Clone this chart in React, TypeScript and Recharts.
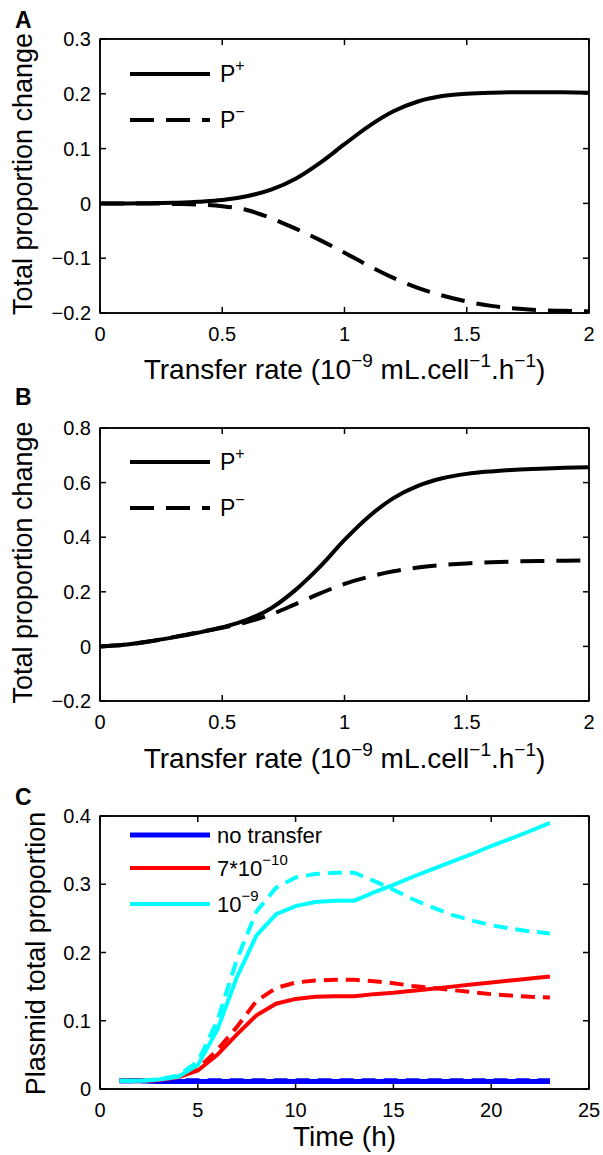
import React from 'react';
import { LineChart, Line, XAxis, YAxis } from 'recharts';

const FONT = '"Liberation Sans", Arial, Helvetica, sans-serif';

// panels A and B: transfer rate (10^-9 mL.cell^-1.h^-1)
const rate = [0, 0.1, 0.2, 0.3, 0.4, 0.5, 0.6, 0.7, 0.8, 0.9, 1, 1.1, 1.2, 1.3, 1.4, 1.5, 1.6, 1.7, 1.8, 1.9, 2];
const plusA = [0, 0, 0.0005, 0.001, 0.003, 0.006, 0.013, 0.025, 0.045, 0.074, 0.108, 0.141, 0.168, 0.186, 0.196, 0.2, 0.202, 0.203, 0.203, 0.203, 0.202];
const minusA = [0, 0, 0, -0.001, -0.002, -0.005, -0.012, -0.027, -0.046, -0.067, -0.09, -0.114, -0.136, -0.154, -0.168, -0.179, -0.187, -0.192, -0.195, -0.196, -0.197];
const plusB = [0, 0.006, 0.018, 0.033, 0.05, 0.07, 0.097, 0.14, 0.207, 0.292, 0.39, 0.476, 0.543, 0.588, 0.616, 0.632, 0.641, 0.647, 0.651, 0.654, 0.656];
const minusB = [0, 0.006, 0.018, 0.034, 0.051, 0.068, 0.089, 0.117, 0.155, 0.194, 0.229, 0.255, 0.275, 0.289, 0.298, 0.304, 0.308, 0.311, 0.313, 0.314, 0.315];

// panel C: time (h)
const hours = [1, 2, 3, 4, 5, 6, 7, 8, 9, 10, 11, 12, 13, 14, 15, 16, 17, 18, 19, 20, 21, 22, 23];
const noTransferSolid = [0.012, 0.012, 0.011, 0.011, 0.011, 0.011, 0.011, 0.011, 0.011, 0.011, 0.011, 0.011, 0.011, 0.011, 0.011, 0.011, 0.011, 0.011, 0.011, 0.011, 0.011, 0.011, 0.011];
const noTransferDashed = [0.012, 0.012, 0.012, 0.012, 0.012, 0.012, 0.012, 0.012, 0.012, 0.012, 0.012, 0.012, 0.012, 0.012, 0.012, 0.012, 0.012, 0.012, 0.012, 0.012, 0.012, 0.012, 0.012];
const lowSolid = [0.012, 0.012, 0.013, 0.017, 0.027, 0.05, 0.08, 0.108, 0.125, 0.132, 0.135, 0.136, 0.136, 0.139, 0.141, 0.144, 0.147, 0.15, 0.153, 0.156, 0.159, 0.162, 0.165];
const lowDashed = [0.012, 0.012, 0.013, 0.018, 0.03, 0.057, 0.091, 0.129, 0.148, 0.156, 0.159, 0.16, 0.16, 0.158, 0.155, 0.151, 0.148, 0.145, 0.142, 0.139, 0.137, 0.135, 0.134];
const highSolid = [0.012, 0.012, 0.014, 0.018, 0.035, 0.087, 0.164, 0.225, 0.256, 0.268, 0.274, 0.276, 0.276, 0.288, 0.299, 0.311, 0.322, 0.333, 0.344, 0.356, 0.367, 0.378, 0.39];
const highDashed = [0.012, 0.012, 0.014, 0.02, 0.04, 0.1, 0.19, 0.26, 0.295, 0.31, 0.315, 0.317, 0.317, 0.305, 0.292, 0.278, 0.266, 0.255, 0.247, 0.24, 0.235, 0.231, 0.228];

const rateTicks = [0, 0.5, 1, 1.5, 2];
const yTicksA = [-0.2, -0.1, 0, 0.1, 0.2, 0.3];
const yTicksB = [-0.2, 0, 0.2, 0.4, 0.6, 0.8];
const hourTicks = [0, 5, 10, 15, 20, 25];
const yTicksC = [0, 0.1, 0.2, 0.3, 0.4];

type Series = { key: string; values: number[]; color: string; width: number; dash?: string; curve: 'monotone' | 'linear' };
type LegendItem = { color: string; width: number; dash?: string; text: string; sup?: string };

const fmt = (v: number) => (v < 0 ? '\u2212' + String(-v) : String(v));

function buildRows(xs: number[], series: Series[]) {
  return xs.map((x, i) => {
    const row: Record<string, number> = { x };
    series.forEach((s) => {
      row[s.key] = s.values[i];
    });
    return row;
  });
}

const PLOT_LEFT = 100;
const PLOT_RIGHT = 589;
const tickStyle = { fontSize: 20, fill: '#000', fontFamily: FONT };
const noLabel = () => <g />;

interface PanelProps {
  top: number;
  height: number;
  marginTop: number;
  plotHeight: number;
  letter: string;
  letterY: number;
  xs: number[];
  series: Series[];
  xDomain: [number, number];
  yDomain: [number, number];
  xTicks: number[];
  yTicks: number[];
  xTitle: React.ReactNode;
  xTitleY: number;
  yTitle: string;
  yTitleX: number;
  yTitleShift: number;
  yTitleSize: number;
  legend: LegendItem[];
  legendY: number[];
  legendTextX: number;
  legendSize: number;
}

function Panel(p: PanelProps) {
  const rows = buildRows(p.xs, p.series);
  const plotMid = p.marginTop + p.plotHeight / 2 + p.yTitleShift;
  const xAxisHeight = p.height - p.marginTop - p.plotHeight;

  const renderX = () => (
    <text x={(PLOT_LEFT + PLOT_RIGHT) / 2} y={p.xTitleY} textAnchor="middle" fontSize={28} fontFamily={FONT} fill="#000">
      {p.xTitle}
    </text>
  );

  const renderY = () => (
    <g>
      <rect x={PLOT_LEFT} y={p.marginTop} width={PLOT_RIGHT - PLOT_LEFT} height={p.plotHeight} fill="none" stroke="#000" strokeWidth={1.5} />
      <text x={15} y={p.letterY} fontSize={23} fontWeight="bold" fontFamily={FONT} fill="#000">
        {p.letter}
      </text>
      <text
        x={p.yTitleX}
        y={plotMid}
        transform={`rotate(-90, ${p.yTitleX}, ${plotMid})`}
        textAnchor="middle"
        fontSize={p.yTitleSize}
        fontFamily={FONT}
        fill="#000"
      >
        {p.yTitle}
      </text>
      {p.legend.map((item, i) => (
        <g key={item.text + i}>
          <line x1={130} x2={210} y1={p.legendY[i]} y2={p.legendY[i]} stroke={item.color} strokeWidth={item.width} strokeDasharray={item.dash} />
          <text x={p.legendTextX} y={p.legendY[i] + 8} fontSize={p.legendSize} fontFamily={FONT} fill="#000">
            {item.text}
            {item.sup && (
              <tspan dy={-11} fontSize={Math.round(p.legendSize * 0.68)}>
                {item.sup}
              </tspan>
            )}
          </text>
        </g>
      ))}
    </g>
  );

  return (
    <div style={{ position: 'absolute', left: 0, top: p.top }}>
      <LineChart width={603} height={p.height} data={rows} margin={{ top: p.marginTop - 1, right: 603 - PLOT_RIGHT - 1, bottom: 0, left: 0 }}>
        <XAxis
          dataKey="x"
          type="number"
          domain={p.xDomain}
          ticks={p.xTicks}
          interval={0}
          allowDataOverflow
          height={xAxisHeight}
          tickSize={-6}
          tickMargin={20}
          tickFormatter={fmt}
          tick={tickStyle}
          stroke="#000"
          strokeWidth={1.5}
          label={{ content: renderX }}
        />
        <XAxis
          xAxisId="top"
          orientation="top"
          dataKey="x"
          type="number"
          domain={p.xDomain}
          ticks={p.xTicks}
          interval={0}
          allowDataOverflow
          height={1}
          tickSize={-6}
          tick={noLabel}
          stroke="#000"
          strokeWidth={1.5}
        />
        <YAxis
          type="number"
          domain={p.yDomain}
          ticks={p.yTicks}
          interval={0}
          allowDataOverflow
          width={PLOT_LEFT}
          tickSize={-6}
          tickMargin={15}
          tickFormatter={fmt}
          tick={tickStyle}
          stroke="#000"
          strokeWidth={1.5}
          label={{ content: renderY }}
        />
        <YAxis
          yAxisId="right"
          orientation="right"
          type="number"
          domain={p.yDomain}
          ticks={p.yTicks}
          interval={0}
          allowDataOverflow
          width={1}
          tickSize={-6}
          tick={noLabel}
          stroke="#000"
          strokeWidth={1.5}
        />
        {p.series.map((s) => (
          <Line
            key={s.key}
            dataKey={s.key}
            type={s.curve}
            stroke={s.color}
            strokeWidth={s.width}
            strokeDasharray={s.dash}
            dot={false}
            activeDot={false}
            isAnimationActive={false}
          />
        ))}
      </LineChart>
    </div>
  );
}

const rateTitle = (
  <>
    <tspan>Transfer rate (10</tspan>
    <tspan dy={-12} fontSize={19}>{'\u22129'}</tspan>
    <tspan dy={12}> mL.cell</tspan>
    <tspan dy={-12} fontSize={19}>{'\u22121'}</tspan>
    <tspan dy={12}>.h</tspan>
    <tspan dy={-12} fontSize={19}>{'\u22121'}</tspan>
    <tspan dy={12}>)</tspan>
  </>
);

const DASH_AB = '24 12';
const DASH_C = '14 8';

const seriesA: Series[] = [
  { key: 'minus', values: minusA, color: '#000', width: 4, dash: DASH_AB, curve: 'monotone' },
  { key: 'plus', values: plusA, color: '#000', width: 4, curve: 'monotone' },
];
const seriesB: Series[] = [
  { key: 'minus', values: minusB, color: '#000', width: 4, dash: DASH_AB, curve: 'monotone' },
  { key: 'plus', values: plusB, color: '#000', width: 4, curve: 'monotone' },
];
const seriesC: Series[] = [
  { key: 'noDash', values: noTransferDashed, color: '#0000ff', width: 5, dash: DASH_C, curve: 'linear' },
  { key: 'no', values: noTransferSolid, color: '#0000ff', width: 5, curve: 'linear' },
  { key: 'lowDash', values: lowDashed, color: '#ff0000', width: 4, dash: DASH_C, curve: 'linear' },
  { key: 'low', values: lowSolid, color: '#ff0000', width: 4, curve: 'linear' },
  { key: 'highDash', values: highDashed, color: '#00ffff', width: 4, dash: DASH_C, curve: 'linear' },
  { key: 'high', values: highSolid, color: '#00ffff', width: 4, curve: 'linear' },
];

const legendAB: LegendItem[] = [
  { color: '#000', width: 4, text: 'P', sup: '+' },
  { color: '#000', width: 4, dash: DASH_AB, text: 'P', sup: '\u2212' },
];
const legendC: LegendItem[] = [
  { color: '#0000ff', width: 5, text: 'no transfer' },
  { color: '#ff0000', width: 4, text: '7*10', sup: '\u221210' },
  { color: '#00ffff', width: 4, text: '10', sup: '\u22129' },
];

export default function App() {
  return (
    <div style={{ position: 'absolute', left: 0, top: 0, width: 603, height: 1155, background: '#fff' }}>
      <Panel
        top={0}
        height={392}
        marginTop={39}
        plotHeight={274}
        letter="A"
        letterY={28}
        xs={rate}
        series={seriesA}
        xDomain={[0, 2]}
        yDomain={[-0.2, 0.3]}
        xTicks={rateTicks}
        yTicks={yTicksA}
        xTitle={rateTitle}
        xTitleY={379}
        yTitle="Total proportion change"
        yTitleX={32}
        yTitleShift={-2}
        yTitleSize={27}
        legend={legendAB}
        legendY={[74, 120]}
        legendTextX={220}
        legendSize={23}
      />
      <Panel
        top={380}
        height={400}
        marginTop={48}
        plotHeight={273}
        letter="B"
        letterY={25}
        xs={rate}
        series={seriesB}
        xDomain={[0, 2]}
        yDomain={[-0.2, 0.8]}
        xTicks={rateTicks}
        yTicks={yTicksB}
        xTitle={rateTitle}
        xTitleY={388}
        yTitle="Total proportion change"
        yTitleX={32}
        yTitleShift={-2}
        yTitleSize={27}
        legend={legendAB}
        legendY={[82, 128]}
        legendTextX={220}
        legendSize={23}
      />
      <Panel
        top={776}
        height={379}
        marginTop={40}
        plotHeight={273}
        letter="C"
        letterY={29}
        xs={hours}
        series={seriesC}
        xDomain={[0, 25]}
        yDomain={[0, 0.4]}
        xTicks={hourTicks}
        yTicks={yTicksC}
        xTitle="Time (h)"
        xTitleY={370}
        yTitle="Plasmid total proportion"
        yTitleX={45}
        yTitleShift={1}
        yTitleSize={27}
        legend={legendC}
        legendY={[59, 92, 128]}
        legendTextX={217}
        legendSize={22}
      />
    </div>
  );
}
